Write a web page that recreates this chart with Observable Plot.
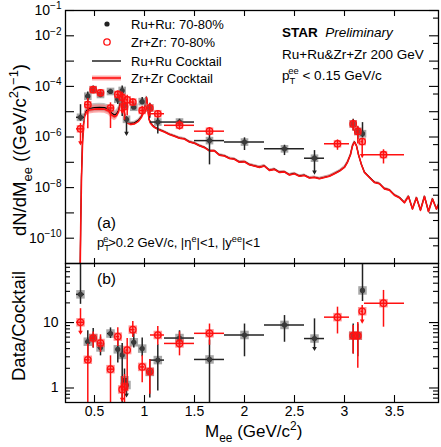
<!DOCTYPE html>
<html><head><meta charset="utf-8">
<script src="https://cdn.jsdelivr.net/npm/d3@7"></script>
<script src="https://cdn.jsdelivr.net/npm/@observablehq/plot@0.6"></script>
<style>
body{margin:0;background:#fff;}
#chart{position:relative;width:441px;height:447px;overflow:hidden;}
#chart svg{position:absolute;left:0;}
</style></head><body><div id="chart"></div>
<script>
// ---------- data ----------
const ruMass      = [0.36, 0.433, 0.487, 0.56, 0.66, 0.733, 0.777, 0.80, 0.82, 0.893, 0.977, 1.053, 1.133, 1.35, 1.65, 2.0, 2.4, 2.7, 3.087, 3.133, 3.18];
const ruMassLo    = [0.32, 0.41, 0.465, 0.535, 0.63, 0.715, 0.77, 0.79, 0.81, 0.87, 0.955, 1.035, 1.06, 1.2, 1.5, 1.8, 2.2, 2.6, 3.075, 3.12, 3.165];
const ruMassHi    = [0.40, 0.455, 0.51, 0.585, 0.69, 0.75, 0.785, 0.81, 0.83, 0.915, 1.0, 1.07, 1.2, 1.5, 1.8, 2.2, 2.6, 2.8, 3.1, 3.145, 3.195];
const ruYield     = [6.0e-6, 4.1e-5, 7.4e-5, 4.8e-5, 6.3e-5, 3.1e-5, 6.9e-5, 1.7e-5, 5.0e-6, 1.5e-5, 2.5e-5, 1.4e-5, 3.9e-6, 3.9e-6, 7.2e-7, 6.3e-7, 3.4e-7, 1.45e-7, 3.3e-6, 1.66e-6, 1.35e-6];
const ruRatio     = [27, 5.1, 5.8, 4.17, 6.8, 3.9, 3.2, 1.31, 1.11, 5.0, 4.0, 1.76, 2.67, 5.8, 2.73, 6.46, 9.2, 5.7, 6.3, 6.3, 31];
const ruRatioLo   = [19, 2.5, 4.1, 3.1, 5.7, 2.4, 0.3, 0.85, 1.11, 4.1, 3.0, 0.7, 0.9, 4.0, 0.3, 3.0, 5.0, 5.7, 3.3, 3.0, 21];
const ruRatioHi   = [85, 7.5, 8.1, 6.0, 8.3, 5.7, 4.8, 1.95, 1.4, 7.2, 5.8, 2.7, 4.6, 7.5, 5.4, 9.5, 12.8, 11.4, 9.5, 9.5, 85];
const ruUpperLimit= [false,false,false,false,false,false,false,false,true,false,false,false,false,false,false,false,false,true,false,false,false];

const zrMass      = [0.36, 0.433, 0.487, 0.56, 0.66, 0.733, 0.777, 0.80, 0.827, 0.883, 0.977, 1.053, 1.133, 1.35, 1.65, 2.93, 3.087, 3.133, 3.177, 3.39];
const zrMassLo    = [0.32, 0.41, 0.465, 0.535, 0.63, 0.715, 0.77, 0.79, 0.815, 0.86, 0.955, 1.035, 1.06, 1.2, 1.5, 2.8, 3.075, 3.12, 3.165, 3.2];
const zrMassHi    = [0.40, 0.455, 0.51, 0.585, 0.69, 0.75, 0.785, 0.81, 0.84, 0.905, 1.0, 1.07, 1.2, 1.5, 1.8, 3.05, 3.1, 3.145, 3.19, 3.6];
const zrYield     = [2.1e-6, 1.9e-5, 7.4e-5, 5.6e-5, 1.4e-5, 4.8e-5, 3.7e-5, 1.6e-5, 2.95e-5, 2.4e-5, 1.12e-5, 1.4e-5, 8.3e-6, 2.9e-6, 1.7e-6, 5.4e-7, 3.3e-6, 1.66e-6, 6.6e-7, 2.0e-7];
const zrRatio     = [10.1, 2.7, 5.8, 4.87, 1.94, 6.1, 0.95, 1.04, 3.8, 7.8, 2.1, 1.78, 6.46, 4.8, 6.85, 12.1, 6.3, 6.3, 14.9, 19.8];
const zrRatioLo   = [10.1, 0.3, 4.1, 3.5, 0.3, 4.3, 0.95, 0.3, 0.9, 5.9, 1.2, 0.8, 4.5, 3.1, 4.5, 6.7, 3.3, 2.0, 14.9, 8.5];
const zrRatioHi   = [16.3, 4.7, 7.2, 6.5, 3.1, 8.3, 1.5, 1.6, 5.7, 10.4, 3.1, 2.7, 8.7, 7.2, 9.5, 17.2, 9.0, 10, 18.3, 31];
const zrUpperLimit= [true,false,false,false,false,false,true,false,false,false,false,false,false,false,false,false,false,false,true,false];

const cocktailMass = [0.355,0.362,0.37,0.38,0.39,0.40,0.42,0.45,0.50,0.55,0.60,0.64,0.67,0.70,0.72,0.74,0.755,0.765,0.775,0.782,0.79,0.80,0.81,0.83,0.86,0.90,0.94,0.97,0.99,1.005,1.015,1.02,1.025,1.035,1.045,1.06,1.08,
  1.10,1.15,1.20,1.25,1.30,1.35,1.40,1.45,1.50,1.55,1.60,1.65,1.70,1.75,1.80,1.85,1.90,1.95,2.00,2.05,2.10,2.15,2.20,2.25,2.30,2.35,2.40,2.45,2.50,2.55,2.60,2.65,2.70,2.75,2.80,2.85,2.90,2.95,3.00,3.03,3.06,3.08,3.10,3.12,3.14,3.17,3.20,3.25,3.30,3.35,3.40,3.45,3.50,3.55,3.60,3.64,3.68,3.72,3.76,3.80,3.84,3.88,3.92,3.95];
const cocktailZrLog10 = [-11.8,-9.6,-7.6,-6.3,-5.55,-5.2,-5.0,-4.93,-4.9,-4.89,-4.9,-4.97,-5.12,-5.2,-5.15,-5.02,-4.75,-4.45,-4.18,-4.2,-4.7,-5.1,-5.33,-5.45,-5.5,-5.48,-5.38,-5.22,-5.05,-4.8,-4.5,-4.44,-4.55,-4.95,-5.3,-5.45,-5.55,
  -5.62,-5.72,-5.8,-5.9,-5.97,-6.05,-6.08,-6.2,-6.25,-6.35,-6.42,-6.55,-6.55,-6.72,-6.75,-6.85,-6.88,-7.0,-6.98,-7.1,-7.15,-7.2,-7.15,-7.32,-7.28,-7.4,-7.38,-7.5,-7.45,-7.55,-7.52,-7.62,-7.6,-7.65,-7.6,-7.55,-7.45,-7.35,-7.2,-7.0,-6.7,-6.35,-6.2,-6.35,-6.7,-7.1,-7.4,-7.6,-7.8,-7.85,-8.05,-8.1,-8.3,-8.4,-8.6,-8.35,-8.85,-8.4,-8.9,-8.35,-8.95,-8.45,-8.85,-8.6];
const cocktailRuLog10 = [-11.8,-9.5,-7.5,-6.2,-5.5,-5.15,-4.95,-4.87,-4.84,-4.83,-4.84,-4.9,-5.05,-5.13,-5.08,-4.96,-4.7,-4.4,-4.15,-4.18,-4.65,-5.05,-5.28,-5.4,-5.46,-5.44,-5.34,-5.18,-5.02,-4.78,-4.48,-4.42,-4.53,-4.93,-5.28,-5.43,-5.53,
  -5.61,-5.71,-5.79,-5.89,-5.96,-6.04,-6.07,-6.19,-6.24,-6.34,-6.41,-6.54,-6.54,-6.71,-6.74,-6.84,-6.87,-6.99,-6.97,-7.09,-7.14,-7.19,-7.14,-7.31,-7.27,-7.39,-7.37,-7.49,-7.44,-7.54,-7.51,-7.61,-7.59,-7.64,-7.59,-7.54,-7.44,-7.34,-7.19,-6.99,-6.69,-6.34,-6.19,-6.34,-6.69,-7.09,-7.39,-7.59,-7.79,-7.84,-8.04,-8.09,-8.29,-8.39,-8.59,-8.34,-8.84,-8.39,-8.89,-8.34,-8.94,-8.44,-8.84,-8.59];
const cocktailUnc = [0.45,0.45,0.45,0.45,0.45,0.45,0.45,0.45,0.45,0.45,0.45,0.45,0.45,0.45,0.45,0.45,0.35,0.25,0.15,0.15,0.15,0.15,0.15,0.15,0.15,0.15,0.15,0.15,0.15,0.15,0.15,0.15,0.15,0.15,0.15,0.15,0.15,
  0.12,0.12,0.12,0.12,0.12,0.12,0.12,0.12,0.12,0.12,0.12,0.12,0.12,0.12,0.12,0.12,0.12,0.12,0.12,0.12,0.12,0.12,0.12,0.12,0.12,0.12,0.12,0.12,0.12,0.12,0.12,0.12,0.12,0.12,0.12,0.12,0.12,0.12,0.12,0.12,0.12,0.12,0.12,0.12,0.12,0.12,0.12,0.12,0.12,0.12,0.12,0.12,0.12,0.12,0.12,0.12,0.12,0.12,0.12,0.12,0.12,0.12,0.12,0.12];

const xTicks = [0.5, 1, 1.5, 2, 2.5, 3, 3.5];
const topDecades = [1e-1,1e-2,1e-3,1e-4,1e-5,1e-6,1e-7,1e-8,1e-9,1e-10];
const topLabelTicks = [1e-1,1e-2,1e-4,1e-6,1e-8,1e-10];
const topRightMinor = [5e-2,5e-3,5e-4,5e-5,5e-6,5e-7,5e-8,5e-9,5e-10,5e-11];
const ratioMajor = [1, 10];
const ratioMinor = [0.7,0.8,0.9,2,3,4,5,6,7,8,9,20,30,40,50,60,70];

// ---------- layout ----------
const W = 441, ML = 65, MR = 3, FW = W - ML - MR;
const xDomain = [0.21, 3.94];
const FONT = "'Liberation Sans', Arial, Helvetica, sans-serif";
const RED = "#ff1010";

const ru = ruMass.map((m,i)=>({m, lo: ruMassLo[i], hi: ruMassHi[i], v: ruYield[i], r: ruRatio[i], rlo: ruRatioLo[i], rhi: ruRatioHi[i], ul: ruUpperLimit[i]}));
const zr = zrMass.map((m,i)=>({m, lo: zrMassLo[i], hi: zrMassHi[i], v: zrYield[i], r: zrRatio[i], rlo: zrRatioLo[i], rhi: zrRatioHi[i], ul: zrUpperLimit[i]}));
const cocktail = cocktailMass.map((m,i)=>({m, zr: 10**cocktailZrLog10[i], ru: 10**cocktailRuLog10[i], u: cocktailUnc[i]}));

const ruStyle = {color:"#222", boxFill:"#8a8a8a", boxOpacity:0.75, dotFill:"#3a3a3a", dotStroke:"none", r:2.6};
const zrStyle = {color:RED, boxFill:"#ff4040", boxOpacity:0.55, dotFill:"none", dotStroke:RED, r:3.2};

// filled downward triangle used as arrowhead
const downTriangle = {draw(ctx, size) {
  const s = Math.sqrt(size) * 0.6;
  ctx.moveTo(-s, -s * 0.7);
  ctx.lineTo(s, -s * 0.7);
  ctx.lineTo(0, s * 1.1);
  ctx.closePath();
}};

function seriesMarks(rows, isTop, s) {
  const val = d => isTop ? d.v : d.r;
  const eLo = d => d.ul ? val(d) : (isTop ? d.v*d.rlo/d.r : d.rlo);
  const eHi = d => isTop ? d.v*d.rhi/d.r : d.rhi;
  const ul = rows.filter(d=>d.ul);
  const len = isTop ? 17 : 13;
  return [
    Plot.dot(rows, {x:"m", y:val, symbol:"square", r: isTop ? 4.3 : 4.8, fill:s.boxFill, fillOpacity:s.boxOpacity, clip:true}),
    Plot.ruleY(rows, {y:val, x1:"lo", x2:"hi", stroke:s.color, strokeWidth:1.5, clip:true}),
    Plot.ruleX(rows, {x:"m", y1:eLo, y2:eHi, stroke:s.color, strokeWidth:1.5, clip:true}),
    Plot.vector(ul, {x:"m", y:val, length:len - 3, rotate:180, anchor:"start", stroke:s.color, strokeWidth:1.5, r:0.5}),
    Plot.dot(ul, {x:"m", y:val, symbol:downTriangle, r:2.2, dy:len - 3, fill:s.color, stroke:"none"}),
    Plot.dot(rows, {x:"m", y:val, r:s.r, fill:s.dotFill, stroke:s.dotStroke, strokeWidth:1.3, clip:true})
  ];
}

function ticksY(vals, len, side) {
  return Plot.tickY(vals, {y:d=>d, stroke:"black", strokeWidth:1.1, ...(side==="left" ? {insetRight: FW-len} : {insetLeft: FW-len})});
}
function ticksX(len, side, fh) {
  return Plot.tickX(xTicks, {x:d=>d, stroke:"black", strokeWidth:1.1, ...(side==="top" ? {insetBottom: fh-len} : {insetTop: fh-len})});
}

// ---------- top panel ----------
const TOPH = 264, TMT = 10, TMB = 1, TFH = TOPH - TMT - TMB;
const topSvg = Plot.plot({
  width: W, height: TOPH, marginLeft: ML, marginRight: MR, marginTop: TMT, marginBottom: TMB,
  style: {fontFamily: FONT, fontSize: "14px", background: "transparent", overflow: "visible", color: "black"},
  x: {domain: xDomain, axis: null},
  y: {type: "log", domain: [1e-11, 1e-1], axis: null},
  marks: [
    Plot.areaY(cocktail, {x:"m", y1:d=>d.ru/(1+d.u), y2:d=>d.ru*(1+d.u), fill:"#9a9a9a", fillOpacity:0.6, clip:true}),
    Plot.areaY(cocktail, {x:"m", y1:d=>d.zr/(1+d.u), y2:d=>d.zr*(1+d.u), fill:"#ff5a5a", fillOpacity:0.5, clip:true}),
    Plot.line(cocktail, {x:"m", y:"ru", stroke:"black", strokeWidth:1.2, clip:true}),
    Plot.line(cocktail, {x:"m", y:"zr", stroke:RED, strokeWidth:1.6, clip:true}),
    ...seriesMarks(ru, true, ruStyle),
    ...seriesMarks(zr, true, zrStyle),
    Plot.axisY({ticks: topLabelTicks, tickSize: 0, tickPadding: 4, tickFormat: d => "10^" + Math.round(Math.log10(d))}),
    ticksY(topDecades, 9, "left"),
    ticksY(topDecades, 9, "right"),
    ticksY(topRightMinor, 5, "right"),
    ticksX(6, "top", TFH),
    ticksX(5, "bottom", TFH),
    Plot.frame({stroke:"black", strokeWidth:1.3})
  ]
});
topSvg.style.top = "0px";

// ---------- ratio panel ----------
const BOT = 262, BH = 447 - BOT, BMT = 1, BMB = 45, BFH = BH - BMT - BMB;
const bottomSvg = Plot.plot({
  width: W, height: BH, marginLeft: ML, marginRight: MR, marginTop: BMT, marginBottom: BMB,
  style: {fontFamily: FONT, fontSize: "14px", background: "transparent", overflow: "visible", color: "black"},
  x: {domain: xDomain, axis: null},
  y: {type: "log", domain: [0.6, 80], axis: null},
  marks: [
    ...seriesMarks(ru, false, ruStyle),
    ...seriesMarks(zr, false, zrStyle),
    Plot.axisX({ticks: xTicks, tickSize: 0, tickPadding: 4, tickFormat: d => String(d)}),
    Plot.axisY({ticks: ratioMajor, tickSize: 0, tickPadding: 7, tickFormat: d => String(d)}),
    ticksY(ratioMajor, 9, "left"),
    ticksY(ratioMinor, 5, "left"),
    ticksY(ratioMajor, 9, "right"),
    ticksY(ratioMinor, 5, "right"),
    ticksX(4, "top", BFH),
    ticksX(7, "bottom", BFH),
    Plot.frame({stroke:"black", strokeWidth:1.3})
  ]
});
bottomSvg.style.top = BOT + "px";

const chart = document.getElementById("chart");
chart.appendChild(topSvg);
chart.appendChild(bottomSvg);

// ---------- rich text helpers ----------
function rich(svg, x, y, parts, {size=13, anchor="start", rotate=0, weight=null} = {}) {
  const t = d3.select(svg).append("text")
    .attr("transform", `translate(${x},${y}) rotate(${rotate})`)
    .attr("text-anchor", anchor).attr("font-size", size).attr("fill", "black")
    .attr("font-family", FONT);
  if (weight) t.attr("font-weight", weight);
  let shift = 0;
  for (const p of parts) {
    const s = typeof p === "string" ? {t: p} : p;
    const target = s.sub ? 0.32*size : s.sup ? -0.42*size : 0;
    const ts = t.append("tspan").text(s.t).attr("dy", target - shift);
    if (s.sub || s.sup) ts.attr("font-size", size*0.7);
    if (s.dx) ts.attr("dx", s.dx);
    if (s.italic) ts.attr("font-style", "italic");
    if (s.bold) ts.attr("font-weight", "bold");
    shift = target;
  }
  return t;
}

// superscript tick labels 10^n
d3.select(topSvg).selectAll('g[aria-label="y-axis tick label"] text').each(function() {
  const txt = this.textContent;
  if (!txt.includes("^")) return;
  const [b, e] = txt.split("^");
  const sel = d3.select(this);
  sel.text(null);
  sel.append("tspan").text(b);
  sel.append("tspan").text(e.replace("-", "−")).attr("font-size", "10px").attr("dy", "-0.55em");
});

// legend
const tsv = d3.select(topSvg);
tsv.append("circle").attr("cx", 107).attr("cy", 24).attr("r", 2.6).attr("fill", "#222");
rich(topSvg, 131, 29, ["Ru+Ru: 70-80%"]);
tsv.append("circle").attr("cx", 107).attr("cy", 42).attr("r", 3.2).attr("fill", "none").attr("stroke", RED).attr("stroke-width", 1.3);
rich(topSvg, 131, 47, ["Zr+Zr: 70-80%"]);
tsv.append("line").attr("x1", 92).attr("x2", 121).attr("y1", 61).attr("y2", 61).attr("stroke", "black").attr("stroke-width", 1.3);
rich(topSvg, 131, 65.5, ["Ru+Ru Cocktail"]);
tsv.append("rect").attr("x", 92).attr("y", 75.5).attr("width", 29).attr("height", 5).attr("fill", "#ff6a6a").attr("fill-opacity", 0.55);
tsv.append("line").attr("x1", 92).attr("x2", 121).attr("y1", 78).attr("y2", 78).attr("stroke", RED).attr("stroke-width", 1.6);
rich(topSvg, 131, 83, ["Zr+Zr Cocktail"]);

// STAR block
rich(topSvg, 282, 37, [{t:"STAR", bold:true}, {t:"  Preliminary", italic:true}], {size: 13.5});
rich(topSvg, 282, 58.5, ["Ru+Ru&Zr+Zr 200 GeV"], {size: 13.5});
rich(topSvg, 282, 80, ["p", {t:"T", sub:true}, {t:"ee", sup:true, dx:-6}, " < 0.15 GeV/c"], {size: 13.5});

// panel labels
rich(topSvg, 97, 228, ["(a)"], {size: 15.5});
rich(topSvg, 97, 247, ["p", {t:"T", sub:true}, {t:"e", sup:true, dx:-5.6}, ">0.2 GeV/c, |η", {t:"e", sup:true}, "|<1, |y", {t:"ee", sup:true}, "|<1"], {size: 13});
rich(bottomSvg, 97, 22, ["(b)"], {size: 15.5});

// axis titles
rich(topSvg, 26, 150, ["dN/dM", {t:"ee", sub:true}, " ((GeV/c", {t:"2", sup:true}, ")", {t:"−1", sup:true}, ")"], {size: 18.5, anchor: "middle", rotate: -90});
rich(bottomSvg, 25, 64, ["Data/Cocktail"], {size: 18.5, anchor: "middle", rotate: -90});
rich(bottomSvg, 205, 175, ["M", {t:"ee", sub:true}, " (GeV/c", {t:"2", sup:true}, ")"], {size: 17});
</script></body></html>
